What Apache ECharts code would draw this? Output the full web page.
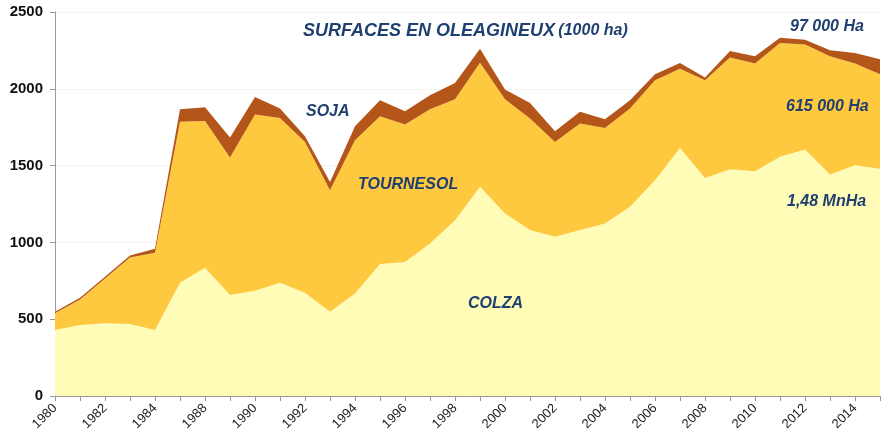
<!DOCTYPE html>
<html>
<head>
<meta charset="utf-8">
<script src="https://cdn.jsdelivr.net/npm/echarts@6/dist/echarts.min.js"></script>
<style>html,body{margin:0;padding:0;background:#fff}#c{width:888px;height:444px}</style>
</head>
<body>
<div id="c"></div>
<script>
var years = ['1980','1981','1982','1983','1984','1987','1988','1989','1990','1991','1992','1993','1994','1995','1996','1997','1998','1999','2000','2001','2002','2003','2004','2005','2006','2007','2008','2009','2010','2011','2012','2013','2014','2015'];
var colza = [429,462,473,468,429,737,835,657,685,737,672,549,668,859,872,993,1145,1362,1188,1080,1036,1080,1123,1232,1405,1615,1420,1477,1464,1557,1605,1442,1503,1480];
var tournesol = [109,167,292,434,503,1048,956,896,1147,1073,982,791,997,962,895,874,787,808,744,726,618,694,622,639,651,516,636,726,700,741,683,770,661,615];
var soja = [10,10,11,13,26,82,89,130,115,61,37,54,91,104,87,91,106,91,63,102,70,76,57,54,39,37,17,43,48,35,32,39,69,97];
var yTicks = [0,500,1000,1500,2000,2500];

var chart = echarts.init(document.getElementById('c'), null, {renderer:'canvas'});
var navy = '#1F3F70';
var ff = '"Liberation Sans", Arial, sans-serif';
function lbl(text, x, y, size){
  return {type:'text', z:100, left:x, top:y, style:{text:text, fill:navy, font:'italic bold '+size+'px '+ff}};
}
function area(name, data, color){
  return {name:name, type:'line', stack:'total', data:data, symbol:'none', smooth:false,
    lineStyle:{width:0}, areaStyle:{color:color, opacity:1}, itemStyle:{color:color}, silent:true, animation:false};
}
chart.setOption({
  animation:false,
  grid:{left:55, right:8, top:12, bottom:48, containLabel:false},
  xAxis:{type:'category', data:years, boundaryGap:false,
    axisLine:{lineStyle:{color:'#9a9a9a', width:1}},
    axisTick:{show:true, interval:0, length:5, lineStyle:{color:'#9a9a9a'}},
    axisLabel:{interval:1, rotate:45, fontSize:13, color:'#222', fontFamily:ff, margin:10},
    splitLine:{show:false}
  },
  yAxis:{type:'value', min:yTicks[0], max:yTicks[yTicks.length-1], interval:500,
    axisLine:{show:true, lineStyle:{color:'#9a9a9a'}},
    axisTick:{show:true, length:5, lineStyle:{color:'#9a9a9a'}},
    axisLabel:{fontSize:15, fontWeight:'bold', color:'#111', fontFamily:ff, margin:12, formatter:function(v){return String(v);}},
    splitLine:{show:true, lineStyle:{color:'#ecebdc', width:1, type:'dotted'}}
  },
  series:[
    area('COLZA', colza, '#FFFCB8'),
    area('TOURNESOL', tournesol, '#FEC93F'),
    area('SOJA', soja, '#B4561A')
  ],
  graphic:[
    {type:'text', z:100, left:303, top:22, style:{
      text:'{a|SURFACES EN OLEAGINEUX} {b|(1000 ha)}',
      rich:{a:{font:'italic bold 18px '+ff, fill:navy}, b:{font:'italic bold 16px '+ff, fill:navy}}
    }},
    lbl('SOJA', 306, 104, 16),
    lbl('TOURNESOL', 358, 177, 16),
    lbl('COLZA', 468, 296, 16),
    lbl('97 000 Ha', 790, 19, 16),
    lbl('615 000 Ha', 786, 99, 16),
    lbl('1,48 MnHa', 787, 194, 16)
  ]
});
</script>
</body>
</html>
